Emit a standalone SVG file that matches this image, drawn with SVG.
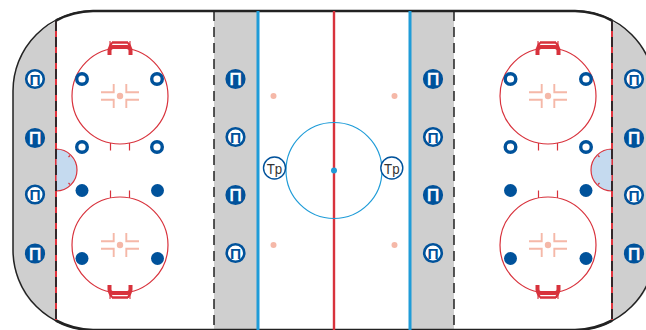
<svg xmlns="http://www.w3.org/2000/svg" xmlns:xlink="http://www.w3.org/1999/xlink" width="646" height="330" viewBox="0 0 646 330">
<style>
.grey{fill:#cfcfcf}
.red{stroke:#d8323c;fill:none}
.fc{stroke:#d8323c;stroke-width:1.2;fill:none}
.pink{stroke:#f5b8a8;stroke-width:1.900;fill:none}
.net{stroke:#d8323c;fill:none}
.blue{stroke:#1f9cd8;fill:none}
.open{fill:#fff;stroke:#00529b;stroke-width:2.6}
.solid{fill:#00529b;stroke:#00529b;stroke-width:2.6}
.dotO{fill:#fff;stroke:#00529b;stroke-width:3.4}
.dotF{fill:#00529b}
.crease{fill:#c5daef;stroke:#d8323c;stroke-width:1.2}
text{font-family:"Liberation Sans",Arial,sans-serif;text-anchor:middle}
.po{font-size:15.500px;fill:#00529b;font-weight:bold}
.pf{font-size:17px;fill:#fff;stroke:#fff;stroke-width:.7}
.tp{font-size:15px;fill:#333}
</style>
<defs>
<g id="spot">
<circle class="fc" r="48"/>
<circle r="3.2" fill="#f5b8a8"/>
<path class="pink" d="M-6.300-12V-3.700H-19M6.300-12V-3.700H19M-6.300 12V3.700H-19M6.300 12V3.700H19"/>
</g>
<g id="netTop">
<path class="net" stroke-width="4" d="M-10.500 12V7.500Q-10.500 4-7 4H7Q10.500 4 10.500 7.500V12"/>
<path class="net" stroke-width="2.400" d="M-8-.5H8M-8-.5L-10.500 4M8-.5L10.500 4"/>
<path class="net" stroke-width="1.100" d="M-10-2V3M10-2V3"/>
</g>
</defs>

<g id="rink">
<rect x="13" y="11" width="642" height="319" rx="80" ry="80" fill="#fff"/>
<path class="grey" d="M56 21.500Q13 42 13 91V250Q13 300 56 320Z"/>
<path class="grey" d="M612 21.500Q655 42 655 91V250Q655 300 612 320Z"/>
<rect class="grey" x="214" y="11" width="44" height="319"/>
<rect class="grey" x="410" y="11" width="44" height="319"/>
<rect x="13" y="11" width="642" height="319" rx="80" ry="80" fill="none" stroke="#222" stroke-width="1.500"/>
<path d="M56 20.500A80 80 0 0 1 93 11H575A80 80 0 0 1 612 20.500M56 320.500A80 80 0 0 0 93 330H575A80 80 0 0 0 612 320.500" fill="none" stroke="#222" stroke-width="2.600"/>
</g>

<g id="lines">
<path d="M56 21V320M612 21V320" stroke="#e0323c" stroke-width="2" fill="none"/>
<path d="M56 21V320M612 21V320" stroke="#33272a" stroke-width="2" stroke-dasharray="10 6" fill="none"/>
<path d="M214 11V330M454 11V330" stroke="#222" stroke-width="1.500" stroke-dasharray="10 6" fill="none"/>
<path class="blue" stroke-width="3" d="M258 11V330M410 11V330"/>
<path class="red" stroke-width="2.400" d="M334 11V330"/>
<circle class="blue" stroke-width="1.200" cx="334" cy="170.500" r="48"/>
<circle cx="334" cy="170.500" r="3" fill="#1f9cd8"/>
<path class="crease" d="M56 149A21 21 0 0 1 56 191Z"/>
<path class="crease" d="M612 149A21 21 0 0 0 612 191Z"/>
<path class="fc" d="M70 155.500L68.500 157M70 184.500L68.500 183M598 155.500L599.500 157M598 184.500L599.500 183"/>
<path d="M56 149V191M612 149V191" stroke="#33272a" stroke-width="2" stroke-dasharray="10 6"/>
<g fill="#f5b8a8"><circle cx="273.500" cy="96" r="3"/><circle cx="394.500" cy="96" r="3"/><circle cx="273.500" cy="245" r="3"/><circle cx="394.500" cy="245" r="3"/></g>
</g>

<g id="zone-left">
<use xlink:href="#spot" href="#spot" x="120" y="96"/>
<use xlink:href="#spot" href="#spot" x="120" y="245"/>
<use xlink:href="#netTop" href="#netTop" x="120" y="43"/>
<use xlink:href="#netTop" href="#netTop" transform="translate(120 297) scale(1 -1)"/>
<path class="fc" d="M110.500 143V150.500M129.500 143V150.500M110.500 190.500V198M129.500 190.500V198"/>
<circle class="dotO" cx="82" cy="79" r="5.300"/><circle class="dotO" cx="157" cy="79" r="5.300"/>
<circle class="dotO" cx="82" cy="147" r="5.300"/><circle class="dotO" cx="157" cy="147" r="5.300"/>
<circle class="dotF" cx="82" cy="190.500" r="6.500"/><circle class="dotF" cx="157.500" cy="190.500" r="6.500"/>
<circle class="dotF" cx="82" cy="258.500" r="6.500"/><circle class="dotF" cx="157.500" cy="258.500" r="6.500"/>
</g>

<g id="zone-right">
<use xlink:href="#spot" href="#spot" x="548" y="96"/>
<use xlink:href="#spot" href="#spot" x="548" y="245"/>
<use xlink:href="#netTop" href="#netTop" x="548" y="43"/>
<use xlink:href="#netTop" href="#netTop" transform="translate(548 297) scale(1 -1)"/>
<path class="fc" d="M538.500 143V150.500M557.500 143V150.500M538.500 190.500V198M557.500 190.500V198"/>
<circle class="dotO" cx="510.500" cy="79" r="5.300"/><circle class="dotO" cx="586" cy="79" r="5.300"/>
<circle class="dotO" cx="510.500" cy="147" r="5.300"/><circle class="dotO" cx="586" cy="147" r="5.300"/>
<circle class="dotF" cx="510.500" cy="190.500" r="6.500"/><circle class="dotF" cx="586" cy="190.500" r="6.500"/>
<circle class="dotF" cx="510.500" cy="258.500" r="6.500"/><circle class="dotF" cx="586" cy="258.500" r="6.500"/>
</g>

<g id="n1"><circle class="open" cx="35" cy="79" r="8.800"/><text class="po" x="35" y="84.500">П</text></g>
<g id="n2"><circle class="solid" cx="35" cy="138" r="8.800"/><text class="pf" x="35" y="144">П</text></g>
<g id="n3"><circle class="open" cx="35" cy="194.500" r="8.800"/><text class="po" x="35" y="200">П</text></g>
<g id="n4"><circle class="solid" cx="35" cy="253.500" r="8.800"/><text class="pf" x="35" y="259.500">П</text></g>

<g id="n5"><circle class="solid" cx="235.500" cy="79" r="8.800"/><text class="pf" x="235.500" y="85">П</text></g>
<g id="n6"><circle class="open" cx="235.500" cy="137" r="8.800"/><text class="po" x="235.500" y="142.500">П</text></g>
<g id="n7"><circle class="solid" cx="235.500" cy="195" r="8.800"/><text class="pf" x="235.500" y="201">П</text></g>
<g id="n8"><circle class="open" cx="235.500" cy="253" r="8.800"/><text class="po" x="235.500" y="258.500">П</text></g>

<g id="n9"><circle class="solid" cx="433" cy="79" r="8.800"/><text class="pf" x="433" y="85">П</text></g>
<g id="n10"><circle class="open" cx="433" cy="137" r="8.800"/><text class="po" x="433" y="142.500">П</text></g>
<g id="n11"><circle class="solid" cx="433" cy="195" r="8.800"/><text class="pf" x="433" y="201">П</text></g>
<g id="n12"><circle class="open" cx="433" cy="253" r="8.800"/><text class="po" x="433" y="258.500">П</text></g>

<g id="n13"><circle class="open" cx="634" cy="79" r="8.800"/><text class="po" x="634" y="84.500">П</text></g>
<g id="n14"><circle class="solid" cx="634" cy="138" r="8.800"/><text class="pf" x="634" y="144">П</text></g>
<g id="n15"><circle class="open" cx="634" cy="195" r="8.800"/><text class="po" x="634" y="200.500">П</text></g>
<g id="n16"><circle class="solid" cx="634" cy="253.500" r="8.800"/><text class="pf" x="634" y="259.500">П</text></g>

<g id="tp-left"><circle cx="274.500" cy="168" r="11" fill="#fff" stroke="#00529b" stroke-width="1.400"/><text class="tp" x="274.500" y="173.500" textLength="15.500" lengthAdjust="spacingAndGlyphs">Tp</text></g>
<g id="tp-right"><circle cx="391.800" cy="168" r="11" fill="#fff" stroke="#00529b" stroke-width="1.400"/><text class="tp" x="391.800" y="173.500" textLength="15.500" lengthAdjust="spacingAndGlyphs">Tp</text></g>
</svg>
